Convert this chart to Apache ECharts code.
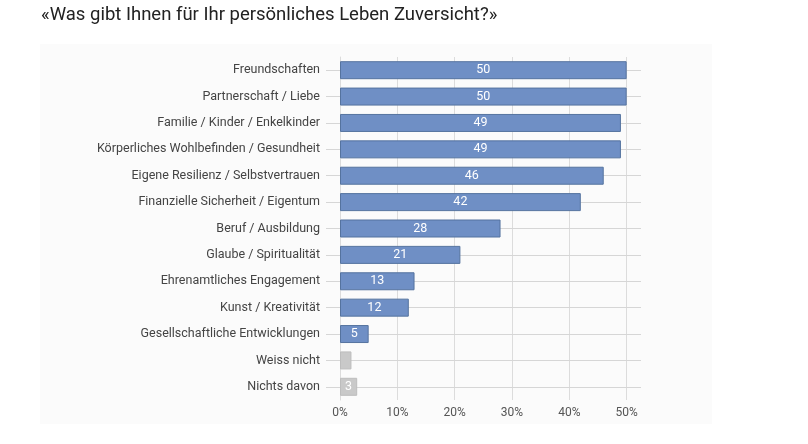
<!DOCTYPE html>
<html>
<head>
<meta charset="utf-8">
<script src="https://cdn.jsdelivr.net/npm/echarts@6/dist/echarts.min.js"></script>
<style>
  html, body { margin: 0; padding: 0; background: #fff; }
  #chart { width: 808px; height: 444px; }
</style>
</head>
<body>
<div id="chart"></div>
<script>
// Umfrage: «Was gibt Ihnen für Ihr persönliches Leben Zuversicht?» (Anteil in %)
const categories = [
  'Freundschaften',
  'Partnerschaft / Liebe',
  'Familie / Kinder / Enkelkinder',
  'Körperliches Wohlbefinden / Gesundheit',
  'Eigene Resilienz / Selbstvertrauen',
  'Finanzielle Sicherheit / Eigentum',
  'Beruf / Ausbildung',
  'Glaube / Spiritualität',
  'Ehrenamtliches Engagement',
  'Kunst / Kreativität',
  'Gesellschaftliche Entwicklungen',
  'Weiss nicht',
  'Nichts davon'
]
const values = [50, 50, 49, 49, 46, 42, 28, 21, 13, 12, 5, 2, 3]
// Antworten ohne inhaltliche Aussage werden grau dargestellt
const neutral = ['Weiss nicht', 'Nichts davon']
const xTicks = [0, 10, 20, 30, 40, 50]

const blue = '#6f8fc5'
const blueBorder = '#55739f'
const grey = '#c9c9c9'
const font = 'Roboto, "Open Sans", sans-serif'

const chart = echarts.init(document.getElementById('chart'))

const barData = categories.map((c, i) => {
  const isNeutral = neutral.includes(c)
  return {
    value: values[i],
    itemStyle: {
      color: isNeutral ? grey : blue,
      borderColor: isNeutral ? '#bdbdbd' : blueBorder,
      borderWidth: 1
    },
    label: { show: values[i] >= 3 }
  }
})

chart.setOption({
  backgroundColor: '#fff',
  animation: false,
  title: {
    text: '«Was gibt Ihnen für Ihr persönliches Leben Zuversicht?»',
    left: 36,
    top: 1,
    textStyle: {
      fontFamily: font,
      fontWeight: 'normal',
      fontSize: 18.5,
      color: '#222'
    }
  },
  graphic: [{
    type: 'rect',
    shape: { x: 40, y: 44, width: 672, height: 380 },
    style: { fill: '#fbfbfb' },
    z: -10,
    silent: true
  }],
  grid: {
    left: 340,
    right: 167,
    top: 57,
    bottom: 44
  },
  xAxis: {
    type: 'value',
    min: 0,
    max: 52.5,
    interval: 10,
    axisLine: { show: false },
    axisTick: { show: false },
    axisLabel: {
      fontFamily: font,
      fontSize: 12,
      color: '#555',
      margin: 7,
      showMaxLabel: false,
      formatter: v => xTicks.includes(v) ? v + '%' : ''
    },
    splitLine: {
      showMaxLine: false,
      lineStyle: { color: '#dcdcdc', width: 1 }
    }
  },
  yAxis: {
    type: 'category',
    data: categories,
    inverse: true,
    axisLine: { show: true, lineStyle: { color: '#dcdcdc' } },
    axisTick: {
      show: true,
      alignWithLabel: true,
      length: 14,
      lineStyle: { color: '#d6d6d6' }
    },
    axisLabel: {
      fontFamily: font,
      fontSize: 12.5,
      color: '#444',
      margin: 20
    }
  },
  series: [{
    type: 'bar',
    data: barData,
    barWidth: 18,
    z: 3,
    label: {
      position: 'inside',
      color: '#fff',
      fontFamily: font,
      fontSize: 12.5
    },
    markLine: {
      silent: true,
      symbol: 'none',
      label: { show: false },
      lineStyle: { color: '#d6d6d6', type: 'solid', width: 1 },
      z: 1,
      data: categories.map(c => ({ yAxis: c }))
    }
  }]
})
</script>
</body>
</html>
